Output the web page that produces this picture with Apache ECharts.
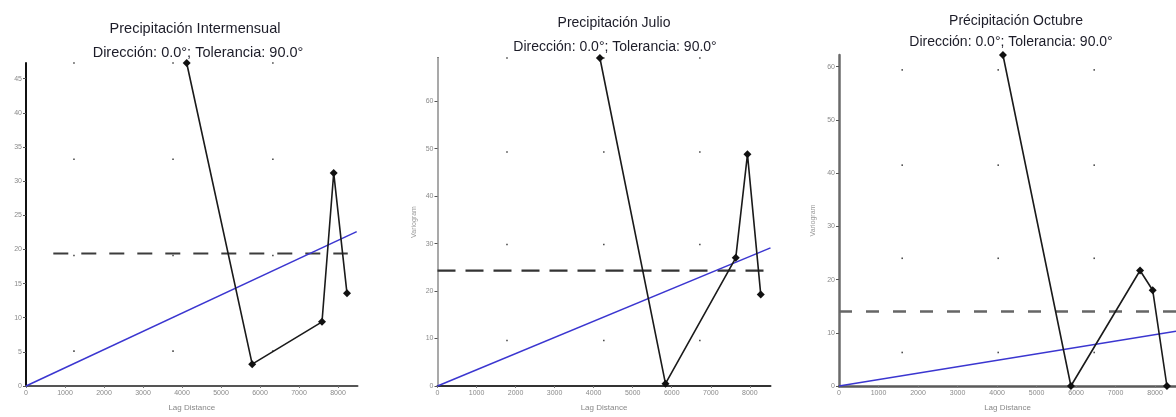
<!DOCTYPE html>
<html>
<head>
<meta charset="utf-8">
<script src="https://cdn.jsdelivr.net/npm/echarts@6/dist/echarts.min.js"></script>
<style>
  html, body { margin: 0; padding: 0; background: #fff; }
  #chart { width: 1176px; height: 417px; }
</style>
</head>
<body>
<div id="chart"></div>
<script>
// Experimental variograms of precipitation (lag distance vs. semivariance)
const titles = ['Precipitación Intermensual', 'Precipitación Julio', 'Précipitación Octubre'];
const subtitle = 'Dirección: 0.0°; Tolerancia: 90.0°';

const lagIntermensual = [4120, 5800, 7590, 7890, 8230];
const gammaIntermensual = [47.3, 3.2, 9.4, 31.2, 13.6];
const lagJulio = [4160, 5840, 7640, 7940, 8280];
const gammaJulio = [69.1, 0.5, 27.0, 48.8, 19.3];
const lagOctubre = [4150, 5870, 7620, 7940, 8300];
const gammaOctubre = [62.2, 0.0, 21.7, 18.0, 0.0];

// Linear model: starts at the origin, ends at [lag, gamma]
const modelEnd = [[8480, 22.6], [8530, 29.1], [8530, 10.3]];

// Sample variance (sill) and its drawn extent
const sill = [19.4, 24.3, 14.0];
const sillFrom = [700, 0, 0];
const sillTo = [8250, 8530, 8530];

// Axis extents and tick labels
const xMax = [8500, 8530, 8530];
const yMax = [47.3, 69.1, 62.2];
const xTicks = [0, 1000, 2000, 3000, 4000, 5000, 6000, 7000, 8000];
const yTicksIntermensual = [0, 5, 10, 15, 20, 25, 30, 35, 40, 45];
const yTicksMensual = [0, 10, 20, 30, 40, 50, 60];

// Faint background dot pattern of the plotting area
const dotLagIntermensual = [1230, 3770, 6330];
const dotGammaIntermensual = [47.3, 33.2, 19.1, 5.1];
const dotLagJulio = [1780, 4260, 6720];
const dotGammaJulio = [69.1, 49.3, 29.8, 9.6];
const dotLagOctubre = [1600, 4030, 6460];
const dotGammaOctubre = [59.4, 41.5, 24.0, 6.3];

const lags = [lagIntermensual, lagJulio, lagOctubre];
const gammas = [gammaIntermensual, gammaJulio, gammaOctubre];
const yTicks = [yTicksIntermensual, yTicksMensual, yTicksMensual];
const dotLags = [dotLagIntermensual, dotLagJulio, dotLagOctubre];
const dotGammas = [dotGammaIntermensual, dotGammaJulio, dotGammaOctubre];

const FONT = '"Liberation Sans", Arial, sans-serif';

const grids = [
  { left: 26, top: 63, width: 331.5, height: 330 },
  { left: 437.5, top: 58, width: 333, height: 336 },
  { left: 839, top: 55, width: 337, height: 336.7 }
];

const axisStyle = [
  { y: '#111', x: '#555', w: 2 },
  { y: '#111', x: '#333', w: 2 },
  { y: '#6a6a6a', x: '#5a5a5a', w: 2.5 }
];

const sillStyle = [
  { color: '#3c3c3c', width: 2, dash: [15, 13] },
  { color: '#333', width: 2.2, dash: [18, 10] },
  { color: '#666', width: 2.6, dash: [13, 14] }
];

const titleLayout = [
  { x: 190, ty: 16, sx: 193, sy: 40, size: 14.5 },
  { x: 609, ty: 11, sx: 610, sy: 35, size: 14 },
  { x: 1011, ty: 9, sx: 1006, sy: 30, size: 14 }
];

const title = [];
titleLayout.forEach((t, i) => {
  title.push({
    text: titles[i], left: t.x, top: t.ty, textAlign: 'center',
    textStyle: { fontFamily: FONT, fontSize: t.size, fontWeight: 'normal', color: '#1c1c28' }
  });
  title.push({
    text: subtitle, left: t.sx, top: t.sy, textAlign: 'center',
    textStyle: { fontFamily: FONT, fontSize: t.size, fontWeight: 'normal', color: '#1c1c28' }
  });
});

const plain = v => String(v);

const xAxis = [];
const yAxis = [];
const series = [];

for (let i = 0; i < 3; i++) {
  xAxis.push({
    type: 'value', gridIndex: i, min: 0, max: xMax[i],
    name: 'Lag Distance', nameLocation: 'middle', nameGap: 18,
    nameTextStyle: { fontFamily: FONT, fontSize: 8, color: '#888' },
    splitLine: { show: false },
    axisLine: { show: true, onZero: false, lineStyle: { color: axisStyle[i].x, width: axisStyle[i].w } },
    axisTick: { show: true, length: 2, customValues: xTicks, lineStyle: { color: '#777' } },
    axisLabel: { customValues: xTicks, formatter: plain, fontFamily: FONT, fontSize: 7, color: '#8a8a8a', margin: 4 }
  });
  yAxis.push({
    type: 'value', gridIndex: i, min: 0, max: yMax[i],
    name: i === 0 ? '' : 'Variogram', nameLocation: 'middle', nameGap: i === 1 ? 20 : 22,
    nameRotate: 90,
    nameTextStyle: { fontFamily: FONT, fontSize: 7, color: '#999' },
    splitLine: { show: false },
    axisLine: { show: true, onZero: false, lineStyle: { color: axisStyle[i].y, width: axisStyle[i].w } },
    axisTick: { show: true, length: 3, customValues: yTicks[i], lineStyle: { color: '#555' } },
    axisLabel: { customValues: yTicks[i], formatter: plain, fontFamily: FONT, fontSize: 7, color: '#8a8a8a', margin: 4 }
  });
}

// Right-hand frame of the middle panel
yAxis.push({
  type: 'value', gridIndex: 1, position: 'right', min: 0, max: yMax[1],
  axisLine: { show: true, lineStyle: { color: '#dcdcdc', width: 1.5 } },
  axisTick: { show: false }, axisLabel: { show: false }, splitLine: { show: false }
});

for (let i = 0; i < 3; i++) {
  // background dot pattern
  const dots = [];
  dotLags[i].forEach(x => dotGammas[i].forEach(y => dots.push([x, y])));
  series.push({
    type: 'scatter', xAxisIndex: i, yAxisIndex: i, data: dots,
    symbol: 'rect', symbolSize: 1.6, itemStyle: { color: '#222' },
    silent: true, clip: false, z: 1
  });

  // sill
  series.push({
    type: 'line', xAxisIndex: i, yAxisIndex: i,
    data: [[sillFrom[i], sill[i]], [sillTo[i], sill[i]]],
    symbol: 'none', silent: true, clip: false,
    lineStyle: { color: sillStyle[i].color, width: sillStyle[i].width, type: sillStyle[i].dash },
    z: 2
  });

  // linear model
  series.push({
    type: 'line', xAxisIndex: i, yAxisIndex: i,
    data: [[0, 0], modelEnd[i]],
    symbol: 'none', silent: true, clip: false,
    lineStyle: { color: '#3b36d0', width: 1.5 },
    z: 3
  });

  // experimental variogram
  series.push({
    type: 'line', xAxisIndex: i, yAxisIndex: i,
    data: lags[i].map((x, k) => [x, gammas[i][k]]),
    symbol: 'diamond', symbolSize: 8, showSymbol: true, clip: false,
    itemStyle: { color: '#111' },
    lineStyle: { color: '#1a1a1a', width: 1.6 },
    z: 4
  });
}

const chart = echarts.init(document.getElementById('chart'), null, { renderer: 'canvas' });
chart.setOption({
  animation: false,
  backgroundColor: '#fff',
  title: title,
  grid: grids,
  xAxis: xAxis,
  yAxis: yAxis,
  series: series
});
</script>
</body>
</html>
